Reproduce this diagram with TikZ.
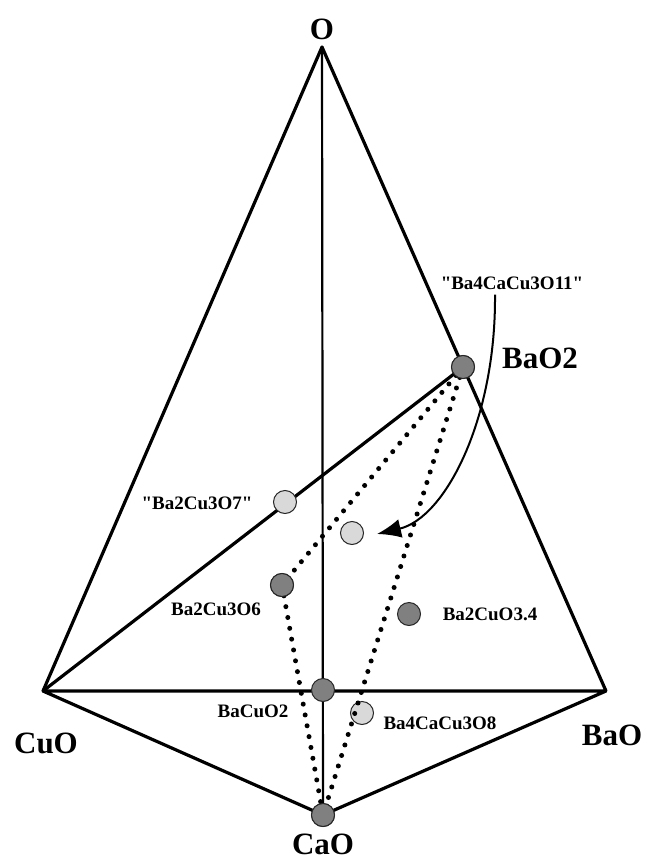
\documentclass[tikz,border=0pt]{standalone}
\usepackage{fontspec}
\setmainfont{Liberation Serif}
\usetikzlibrary{arrows.meta}
\begin{document}
\begin{tikzpicture}[x=1pt,y=-1pt,
  edge/.style={line width=3.2pt, line join=round},
  axisline/.style={line width=2.2pt},
  dotline/.style={line width=5pt, dash pattern=on 0pt off 11pt, line cap=round},
  darkdot/.style={circle, draw=black!85, line width=1pt, fill=black!50, minimum size=23pt, inner sep=0pt},
  lightdot/.style={circle, draw=black!85, line width=1pt, fill=black!15, minimum size=23pt, inner sep=0pt},
  big/.style={font=\bfseries\fontsize{31}{31}\selectfont, inner sep=0pt},
  small/.style={font=\bfseries\fontsize{19}{19}\selectfont, inner sep=0pt},
  curvearrow/.style={line width=2pt, -{Latex[length=24pt,width=19pt]}}]
\useasboundingbox (0,0) rectangle (646,861);
\coordinate (O) at (322,47);
\coordinate (CuO) at (43,691);
\coordinate (BaO) at (606,691);
\coordinate (Ca) at (323,815);
\coordinate (B2) at (463,367);
% frame
\draw[edge] (CuO) -- (O) -- (BaO) -- (Ca) -- (CuO) -- (BaO);
\draw[edge] (CuO) -- (B2);
\draw[axisline] (O) -- (Ca);
% dots
\node[darkdot] (baotwo) at (B2) {};
\node[lightdot] (b237) at (285,502) {};
\node[lightdot] (b4c11) at (352,533) {};
\node[darkdot] (b236) at (282,585) {};
\node[darkdot] (b2134) at (409,614) {};
\node[darkdot] (bcu) at (323,690) {};
\node[lightdot] (b4c8) at (362,713) {};
\node[darkdot] (cao) at (Ca) {};
% dotted tie lines
\draw[dotline] (baotwo.center) -- (b236.center);
\draw[dotline] (b236.center) -- (cao.center);
\draw[dotline] (baotwo.center) -- (cao.center);
% redraw dots over dotted lines
\node[darkdot] at (B2) {};
\node[darkdot] at (282,585) {};
\node[darkdot] at (Ca) {};
% labels
\node[big] (lO) at (322,29) {O};
\node[big] (lCuO) at (46,743) {CuO};
\node[big] (lBaO) at (612,735) {BaO};
\node[big] (lCaO) at (323,844) {CaO};
\node[big] (lBaO2) at (540,358) {BaO2};
\node[small] (l11) at (512,283) {\textquotedbl Ba4CaCu3O11\textquotedbl};
\node[small] (l7) at (197,503) {\textquotedbl Ba2Cu3O7\textquotedbl};
\node[small] (l6) at (216,609) {Ba2Cu3O6};
\node[small] (l34) at (490,614) {Ba2CuO3.4};
\node[small] (lbcu) at (253,711) {BaCuO2};
\node[small] (l8) at (440,723) {Ba4CaCu3O8};
% curved arrow
\coordinate (tip) at (377,534);
\draw[curvearrow] (l11.south -| 495,0) ++(0,5) .. controls (496,420) and (445,518) .. (tip);
\end{tikzpicture}
\end{document}
